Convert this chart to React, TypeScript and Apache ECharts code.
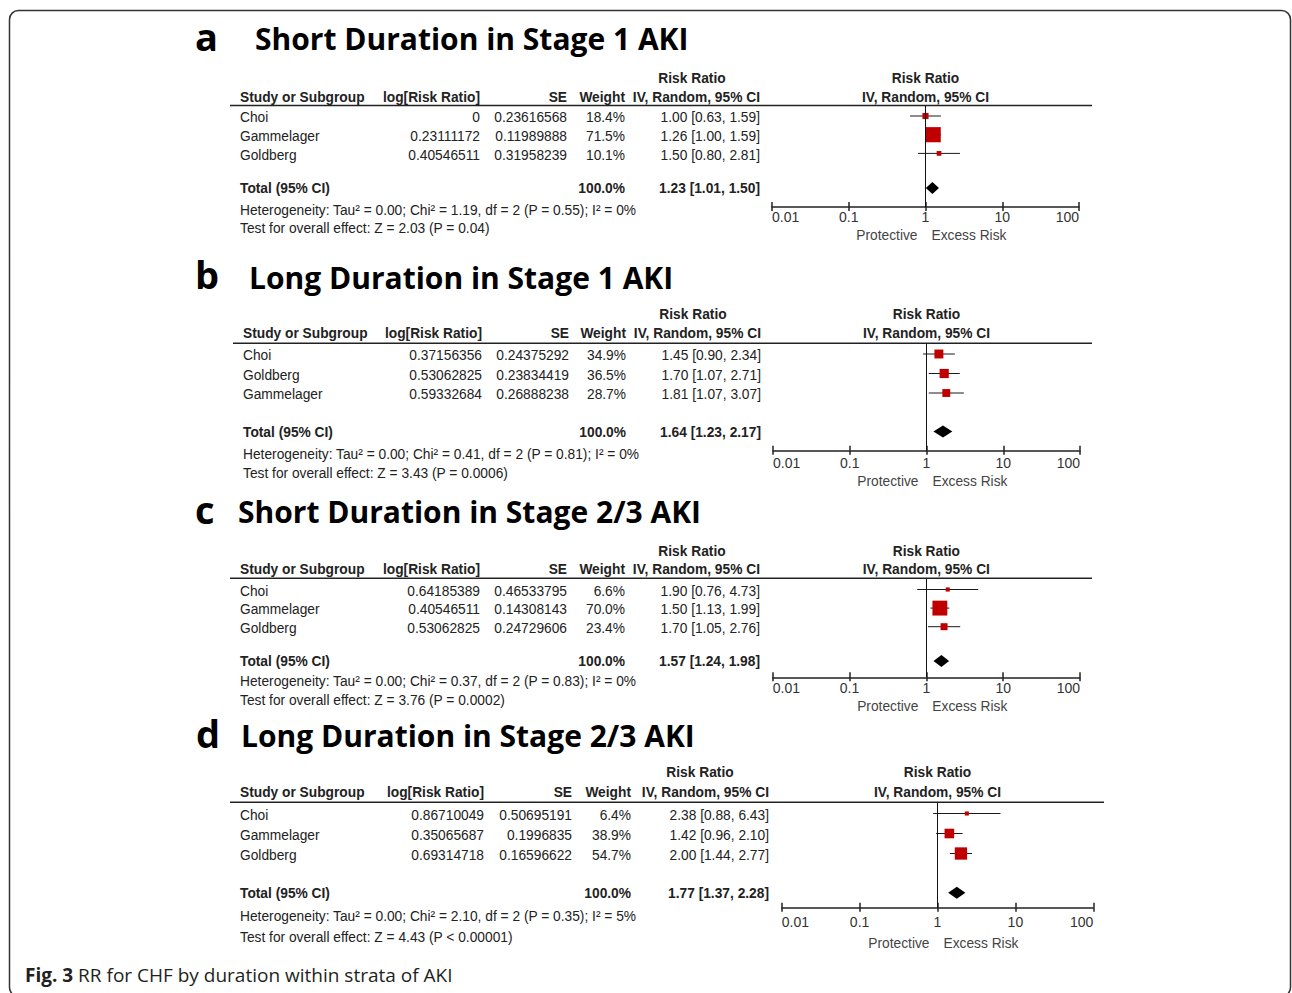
import React, { useEffect, useRef } from "react";
import * as echarts from "echarts";

// ---- Panel a: short duration, stage 1 AKI ----
const studiesA = ["Choi", "Gammelager", "Goldberg"];
const logRrA = [0, 0.23111172, 0.40546511];
const seA = [0.23616568, 0.11989888, 0.31958239];
const weightA = [18.4, 71.5, 10.1];
const rrA = [1.0, 1.26, 1.5];
const lowA = [0.63, 1.0, 0.8];
const highA = [1.59, 1.59, 2.81];
const totalA = [1.23, 1.01, 1.5];

// ---- Panel b: long duration, stage 1 AKI ----
const studiesB = ["Choi", "Goldberg", "Gammelager"];
const logRrB = [0.37156356, 0.53062825, 0.59332684];
const seB = [0.24375292, 0.23834419, 0.26888238];
const weightB = [34.9, 36.5, 28.7];
const rrB = [1.45, 1.7, 1.81];
const lowB = [0.9, 1.07, 1.07];
const highB = [2.34, 2.71, 3.07];
const totalB = [1.64, 1.23, 2.17];

// ---- Panel c: short duration, stage 2/3 AKI ----
const studiesC = ["Choi", "Gammelager", "Goldberg"];
const logRrC = [0.64185389, 0.40546511, 0.53062825];
const seC = [0.46533795, 0.14308143, 0.24729606];
const weightC = [6.6, 70.0, 23.4];
const rrC = [1.9, 1.5, 1.7];
const lowC = [0.76, 1.13, 1.05];
const highC = [4.73, 1.99, 2.76];
const totalC = [1.57, 1.24, 1.98];

// ---- Panel d: long duration, stage 2/3 AKI ----
const studiesD = ["Choi", "Gammelager", "Goldberg"];
const logRrD = [0.86710049, 0.35065687, 0.69314718];
const seD = [0.50695191, 0.1996835, 0.16596622];
const weightD = [6.4, 38.9, 54.7];
const rrD = [2.38, 1.42, 2.0];
const lowD = [0.88, 0.96, 1.44];
const highD = [6.43, 2.1, 2.77];
const totalD = [1.77, 1.37, 2.28];

const totalWeights = [100.0, 100.0, 100.0, 100.0];
const panelLetters = ["a", "b", "c", "d"];
const panelTitles = [
  "Short Duration in Stage 1 AKI",
  "Long Duration in Stage 1 AKI",
  "Short Duration in Stage 2/3 AKI",
  "Long Duration in Stage 2/3 AKI",
];
const heterogeneityText = [
  "Heterogeneity: Tau² = 0.00; Chi² = 1.19, df = 2 (P = 0.55); I² = 0%",
  "Heterogeneity: Tau² = 0.00; Chi² = 0.41, df = 2 (P = 0.81); I² = 0%",
  "Heterogeneity: Tau² = 0.00; Chi² = 0.37, df = 2 (P = 0.83); I² = 0%",
  "Heterogeneity: Tau² = 0.00; Chi² = 2.10, df = 2 (P = 0.35); I² = 5%",
];
const overallEffectText = [
  "Test for overall effect: Z = 2.03 (P = 0.04)",
  "Test for overall effect: Z = 3.43 (P = 0.0006)",
  "Test for overall effect: Z = 3.76 (P = 0.0002)",
  "Test for overall effect: Z = 4.43 (P < 0.00001)",
];
const tickLabels = ["0.01", "0.1", "1", "10", "100"];
const captionBold = "Fig. 3";
const captionText = " RR for CHF by duration within strata of AKI";

const panels = [
  { studies: studiesA, logRr: logRrA, se: seA, weight: weightA, rr: rrA, low: lowA, high: highA, total: totalA },
  { studies: studiesB, logRr: logRrB, se: seB, weight: weightB, rr: rrB, low: lowB, high: highB, total: totalB },
  { studies: studiesC, logRr: logRrC, se: seC, weight: weightC, rr: rrC, low: lowC, high: highC, total: totalC },
  { studies: studiesD, logRr: logRrD, se: seD, weight: weightD, rr: rrD, low: lowD, high: highD, total: totalD },
];

// Page positions of each panel block
const layouts = [
  { letterX: 195, letterY: 36, titleX: 255, titleY: 38, riskY: 78, headY: 97, lineY: 105.5, lineLeft: 230, lineRight: 1092, nameX: 240, logX: 480, seX: 567, wtX: 625, ciX: 760, riskX: 692, row0: 116, gap: 18.7, totalY: 188, hetY: 210, testY: 228, plotLeft: 772, plotRight: 1079, axisY: 207, labelMargin: 3, protY: 234.5 },
  { letterX: 195, letterY: 274, titleX: 249, titleY: 277, riskY: 314, headY: 333, lineY: 343.3, lineLeft: 233, lineRight: 1092, nameX: 243, logX: 482, seX: 569, wtX: 626, ciX: 761, riskX: 693, row0: 354, gap: 19.5, totalY: 431.5, hetY: 454, testY: 473, plotLeft: 773, plotRight: 1080, axisY: 450.7, labelMargin: 5, protY: 480.5 },
  { letterX: 195, letterY: 509, titleX: 238, titleY: 511, riskY: 551, headY: 569, lineY: 578.3, lineLeft: 230, lineRight: 1092, nameX: 240, logX: 480, seX: 567, wtX: 625, ciX: 760, riskX: 692, row0: 589.5, gap: 18.6, totalY: 661, hetY: 681, testY: 700, plotLeft: 772.7, plotRight: 1080, axisY: 677.3, labelMargin: 4, protY: 705.5 },
  { letterX: 196, letterY: 733, titleX: 241, titleY: 735, riskY: 772, headY: 792, lineY: 802.3, lineLeft: 230, lineRight: 1104, nameX: 240, logX: 484, seX: 572, wtX: 631, ciX: 769, riskX: 700, row0: 813.5, gap: 20, totalY: 892.7, hetY: 916, testY: 937, plotLeft: 781.7, plotRight: 1093.3, axisY: 907.7, labelMargin: 7, protY: 943 },
];

const TABLE_FONT = "'Liberation Sans', Arial, sans-serif";
const TITLE_FONT = "'Open Sans', sans-serif";
const TEXT_COLOR = "#222";
const FS = 14.5;
const NARROW = 0.95;

type Align = "left" | "right" | "center";

function txt(x: number, y: number, text: string, align: Align = "left", bold = false, extra: any = {}) {
  return {
    type: "text",
    x,
    y,
    silent: true,
    scaleX: extra.scaleX ?? NARROW,
    style: {
      text,
      textAlign: align,
      textVerticalAlign: "middle",
      verticalAlign: "middle",
      fontFamily: extra.fontFamily ?? TABLE_FONT,
      fontSize: extra.fontSize ?? FS,
      fontWeight: bold ? "bold" : "normal",
      fill: extra.fill ?? TEXT_COLOR,
    },
  };
}

function ciText(rr: number, lo: number, hi: number) {
  return `${rr.toFixed(2)} [${lo.toFixed(2)}, ${hi.toFixed(2)}]`;
}

function buildOption() {
  const elements: any[] = [];
  const grid: any[] = [];
  const xAxis: any[] = [];
  const yAxis: any[] = [];
  const series: any[] = [];

  // Outer frame
  elements.push({
    type: "rect",
    silent: true,
    shape: { x: 9.5, y: 10.5, width: 1281, height: 986, r: 9 },
    style: { fill: "none", stroke: "#333", lineWidth: 1.5 },
  });

  panels.forEach((p, i) => {
    const l = layouts[i];
    const x1 = (l.plotLeft + l.plotRight) / 2;
    const rowY = (k: number) => l.row0 + k * l.gap;

    // Panel heading
    elements.push(txt(l.letterX, l.letterY, panelLetters[i], "left", true, { fontFamily: TITLE_FONT, fontSize: 38, fill: "#000", scaleX: 1 }));
    elements.push(txt(l.titleX, l.titleY, panelTitles[i], "left", true, { fontFamily: TITLE_FONT, fontSize: 30, fill: "#000", scaleX: 1 }));

    // Column headings
    elements.push(txt(l.riskX, l.riskY, "Risk Ratio", "center", true));
    elements.push(txt(x1, l.riskY, "Risk Ratio", "center", true));
    elements.push(txt(l.nameX, l.headY, "Study or Subgroup", "left", true));
    elements.push(txt(l.logX, l.headY, "log[Risk Ratio]", "right", true));
    elements.push(txt(l.seX, l.headY, "SE", "right", true));
    elements.push(txt(l.wtX, l.headY, "Weight", "right", true));
    elements.push(txt(l.ciX, l.headY, "IV, Random, 95% CI", "right", true));
    elements.push(txt(x1, l.headY, "IV, Random, 95% CI", "center", true));

    elements.push({
      type: "line",
      silent: true,
      shape: { x1: l.lineLeft, y1: l.lineY, x2: l.lineRight, y2: l.lineY },
      style: { stroke: "#222", lineWidth: 1.6 },
    });

    // Study rows
    p.studies.forEach((s, k) => {
      const y = rowY(k) + 1;
      elements.push(txt(l.nameX, y, s, "left"));
      elements.push(txt(l.logX, y, String(p.logRr[k]), "right"));
      elements.push(txt(l.seX, y, String(p.se[k]), "right"));
      elements.push(txt(l.wtX, y, p.weight[k].toFixed(1) + "%", "right"));
      elements.push(txt(l.ciX, y, ciText(p.rr[k], p.low[k], p.high[k]), "right"));
    });

    // Total row and test statistics
    elements.push(txt(l.nameX, l.totalY, "Total (95% CI)", "left", true));
    elements.push(txt(l.wtX, l.totalY, totalWeights[i].toFixed(1) + "%", "right", true));
    elements.push(txt(l.ciX, l.totalY, ciText(p.total[0], p.total[1], p.total[2]), "right", true));
    elements.push(txt(l.nameX, l.hetY, heterogeneityText[i], "left"));
    elements.push(txt(l.nameX, l.testY, overallEffectText[i], "left"));

    elements.push(txt(x1 - 8, l.protY, "Protective", "right", false, { fill: "#444" }));
    elements.push(txt(x1 + 6, l.protY, "Excess Risk", "left", false, { fill: "#444" }));

    // Plot area
    grid.push({
      left: l.plotLeft,
      top: l.lineY,
      width: l.plotRight - l.plotLeft,
      height: l.axisY - l.lineY,
      outerBoundsMode: "none",
    });
    const logAxisBase = {
      type: "log",
      logBase: 10,
      min: 0.01,
      max: 100,
      gridIndex: i,
      position: "bottom",
      splitLine: { show: false },
      minorTick: { show: false },
    };
    xAxis.push({
      ...logAxisBase,
      axisLine: { show: true, onZero: false, lineStyle: { color: "#222", width: 1.5 } },
      axisTick: { show: true, inside: false, length: 4, lineStyle: { color: "#222", width: 1.5 } },
      axisLabel: {
        show: true,
        margin: l.labelMargin,
        color: "#333",
        fontFamily: TABLE_FONT,
        fontSize: FS - 0.5,
        alignMinLabel: "left",
        alignMaxLabel: "right",
        formatter: (v: number) => tickLabels[Math.round(Math.log10(v)) + 2] ?? "",
      },
    });
    xAxis.push({
      ...logAxisBase,
      axisLine: { show: false, onZero: false },
      axisTick: { show: true, inside: true, length: 5, lineStyle: { color: "#222", width: 1.5 } },
      axisLabel: { show: false },
    });
    yAxis.push({
      type: "value",
      gridIndex: i,
      inverse: true,
      min: -(l.row0 - l.lineY) / l.gap,
      max: (l.axisY - l.row0) / l.gap,
      show: false,
    });

    const studyData = p.studies.map((_, k) => [p.rr[k], k, p.low[k], p.high[k], p.weight[k]]);
    series.push({
      type: "custom",
      xAxisIndex: 2 * i,
      yAxisIndex: i,
      clip: false,
      silent: true,
      data: studyData,
      encode: { x: [0, 2, 3], y: 1 },
      renderItem: (_params: any, api: any) => {
        const c = api.coord([api.value(0), api.value(1)]);
        const lo = api.coord([api.value(2), api.value(1)]);
        const hi = api.coord([api.value(3), api.value(1)]);
        const size = 3 + 0.17 * api.value(4);
        return {
          type: "group",
          children: [
            {
              type: "line",
              shape: { x1: lo[0], y1: c[1], x2: hi[0], y2: c[1] },
              style: { stroke: "#1a1a1a", lineWidth: 1 },
            },
            {
              type: "rect",
              shape: { x: c[0] - size / 2, y: c[1] - size / 2, width: size, height: size },
              style: { fill: "#c00000" },
            },
          ],
        };
      },
      markLine: {
        silent: true,
        symbol: "none",
        label: { show: false },
        lineStyle: { color: "#111", width: 1, type: "solid" },
        data: [{ xAxis: 1 }],
      },
    });

    const totalIdx = (l.totalY - l.row0) / l.gap;
    series.push({
      type: "custom",
      xAxisIndex: 2 * i,
      yAxisIndex: i,
      clip: false,
      silent: true,
      data: [[p.total[0], totalIdx, p.total[1], p.total[2]]],
      encode: { x: [0, 2, 3], y: 1 },
      renderItem: (_params: any, api: any) => {
        const c = api.coord([api.value(0), api.value(1)]);
        const lo = api.coord([api.value(2), api.value(1)]);
        const hi = api.coord([api.value(3), api.value(1)]);
        const h = 6;
        return {
          type: "polygon",
          shape: {
            points: [
              [lo[0], c[1]],
              [c[0], c[1] - h],
              [hi[0], c[1]],
              [c[0], c[1] + h],
            ],
          },
          style: { fill: "#000" },
        };
      },
    });
  });

  // Caption
  elements.push({
    type: "text",
    x: 25,
    y: 975,
    silent: true,
    style: {
      text: `{b|${captionBold}}${captionText}`,
      textVerticalAlign: "middle",
      verticalAlign: "middle",
      fontFamily: "'Open Sans', sans-serif",
      fontSize: 19,
      fill: "#231f20",
      rich: {
        b: { fontFamily: "'Open Sans', sans-serif", fontSize: 19, fontWeight: "bold", fill: "#231f20" },
      },
    },
  });

  return {
    animation: false,
    backgroundColor: "#ffffff",
    grid,
    xAxis,
    yAxis,
    series,
    graphic: { elements },
  };
}

export default function App() {
  const ref = useRef<HTMLDivElement>(null);
  useEffect(() => {
    if (!ref.current) return;
    const chart = echarts.init(ref.current, undefined, { renderer: "svg" });
    chart.setOption(buildOption() as any);
    return () => chart.dispose();
  }, []);
  return (
    <div
      ref={ref}
      style={{ position: "fixed", left: 0, top: 0, width: 1292, height: 993, background: "#fff" }}
    />
  );
}
